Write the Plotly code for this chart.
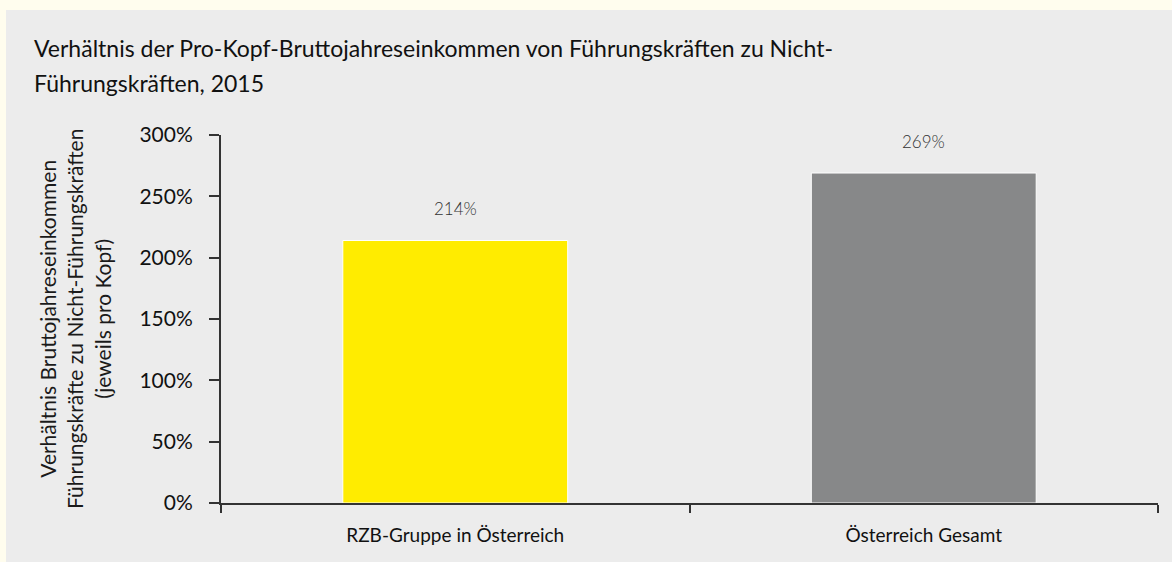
import plotly.graph_objects as go

categories = ["RZB-Gruppe in Österreich", "Österreich Gesamt"]
values = [214, 269]
bar_colors = ["#ffec00", "#878889"]
y_ticks = [0, 50, 100, 150, 200, 250, 300]
y_tick_labels = [f"{v}%" for v in y_ticks]
title_lines = ["Verhältnis der Pro-Kopf-Bruttojahreseinkommen von Führungskräften zu Nicht-",
               "Führungskräften, 2015"]
y_title = ("Verhältnis Bruttojahreseinkommen<br>"
           "Führungskräfte zu Nicht-Führungskräften<br>"
           "(jeweils pro Kopf)")

W, H = 1172, 562
L, R, T, B = 221, 14, 135, 59
pw, ph = W - L - R, H - T - B

def px_x(p):
    return (p - L) / pw

def px_y(p):
    return (H - B - p) / ph

FONT = "Lato"
cream = "#fffdee"

fig = go.Figure()
fig.add_trace(go.Bar(
    x=categories, y=values,
    marker=dict(color=bar_colors, line=dict(color="white", width=1)),
    width=0.48,
    hoverinfo="skip",
))

for c, v in zip(categories, values):
    fig.add_annotation(x=c, y=v, text=f"{v}%", showarrow=False, yshift=32,
                       font=dict(family=FONT, size=17, color="#333333", weight=300))

fig.add_annotation(xref="paper", yref="paper", x=px_x(75), y=0.5, text=y_title,
                   textangle=-90, showarrow=False, xanchor="center", yanchor="middle",
                   font=dict(family=FONT, size=21, color="#1a1a1a"))

for i, line in enumerate(title_lines):
    fig.add_annotation(xref="paper", yref="paper", x=px_x(32), y=px_y(32 + 35 * i),
                       text=line, showarrow=False, xanchor="left", yanchor="top",
                       align="left",
                       font=dict(family=FONT, size=23, color="#111111"))

shapes = [
    dict(type="rect", xref="paper", yref="paper", layer="below",
         x0=px_x(-5), x1=px_x(W + 5), y0=px_y(10), y1=px_y(-5),
         fillcolor=cream, line=dict(width=0)),
    dict(type="rect", xref="paper", yref="paper", layer="below",
         x0=px_x(-5), x1=px_x(6), y0=px_y(H + 5), y1=px_y(-5),
         fillcolor=cream, line=dict(width=0)),
]

fig.update_layout(
    width=W, height=H,
    margin=dict(l=L, r=R, t=T, b=B, pad=0),
    paper_bgcolor="#ececec", plot_bgcolor="#ececec",
    shapes=shapes,
    showlegend=False,
    bargap=0.52,
    xaxis=dict(showgrid=False, showline=True, linecolor="#333333", linewidth=2,
               ticks="outside", tickson="boundaries", ticklen=8, tickcolor="#333333",
               tickwidth=1.5, ticklabelstandoff=14,
               tickfont=dict(family=FONT, size=19, color="#111111"),
               zeroline=False),
    yaxis=dict(range=[0, 300], tickvals=y_ticks, ticktext=y_tick_labels,
               showgrid=False, showline=True, linecolor="#333333", linewidth=2,
               ticks="outside", ticklen=10, tickcolor="#333333", tickwidth=1.5,
               ticklabelstandoff=12,
               tickfont=dict(family=FONT, size=21, color="#111111"),
               zeroline=False),
)

fig.write_html(
    "out.html",
    config={"displayModeBar": False},
    post_script="document.body.style.margin='0';document.body.style.backgroundColor='%s';" % cream,
)
